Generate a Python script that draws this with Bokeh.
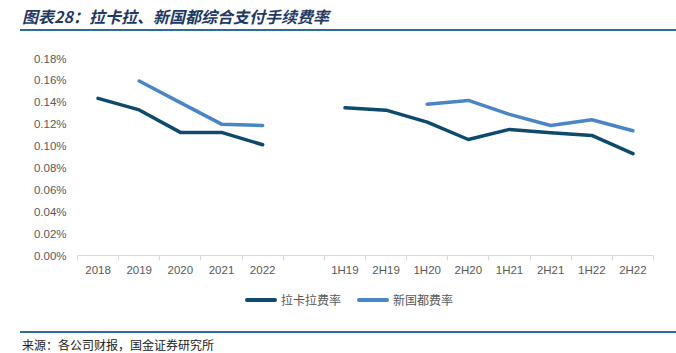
import math
from bokeh.plotting import figure
from bokeh.layouts import column
from bokeh.models import (ColumnDataSource, FixedTicker, PrintfTickFormatter, Range1d, Div)
from bokeh.embed import file_html
from bokeh.resources import INLINE

nan = float("nan")

categories = ["2018", "2019", "2020", "2021", "2022", "",
              "1H19", "2H19", "1H20", "2H20", "1H21", "2H21", "1H22", "2H22"]
lakala_rate = [0.1436, 0.1330, 0.1125, 0.1125, 0.1012, nan,
               0.1350, 0.1328, 0.1219, 0.1060, 0.1152, 0.1121, 0.1097, 0.0930]
xgd_rate = [nan, 0.1594, 0.1397, 0.1200, 0.1188, nan,
            nan, nan, 0.1383, 0.1417, 0.1289, 0.1188, 0.1240, 0.1140]
y_ticks = [0.00, 0.02, 0.04, 0.06, 0.08, 0.10, 0.12, 0.14, 0.16, 0.18]

title_text = "图表28：拉卡拉、新国都综合支付手续费率"
source_text = "来源：各公司财报，国金证券研究所"
names = ["拉卡拉费率", "新国都费率"]

DARK = "#0E4A6E"
LIGHT = "#4A86C6"
GREY = "#595959"
AX = "#D9D9D9"
RULE = "#2E6D96"
colors = [DARK, LIGHT]

W = 676
TOP_H, MAIN_H, BOT_H = 40, 245, 68

top = Div(width=W, height=TOP_H, margin=(0, 0, 0, 0), text=(
    f'<div style="position:relative;width:{W}px;height:{TOP_H}px;">'
    '<div style="position:absolute;left:22px;top:4px;white-space:nowrap;'
    "font-family:'Noto Sans CJK SC';font-size:16px;font-weight:bold;font-style:italic;"
    f'line-height:24px;color:#1F3864;">{title_text}</div>'
    f'<div style="position:absolute;left:20px;top:29px;width:{W - 20}px;height:2px;'
    f'background:{RULE};"></div></div>'))

# legend (HTML) + source strip
leg_x = [245, 357]
items = ""
for lx, nm, col in zip(leg_x, names, colors):
    items += (f'<div style="position:absolute;left:{lx}px;top:13px;width:32px;height:4px;'
              f'border-radius:2px;background:{col};"></div>'
              f'<div style="position:absolute;left:{lx + 36}px;top:7px;white-space:nowrap;'
              "font-family:'Noto Sans CJK SC';font-size:12px;line-height:16px;"
              f'color:{GREY};">{nm}</div>')

bot = Div(width=W, height=BOT_H, margin=(0, 0, 0, 0), text=(
    f'<div style="position:relative;width:{W}px;height:{BOT_H}px;">' + items +
    f'<div style="position:absolute;left:20px;top:46px;width:{W - 20}px;height:2px;'
    f'background:{RULE};"></div>'
    '<div style="position:absolute;left:22px;top:52px;white-space:nowrap;'
    "font-family:'Noto Sans CJK SC';font-size:12px;line-height:16px;"
    f'color:#222222;">{source_text}</div></div>'))

src = ColumnDataSource(dict(x=list(range(len(categories))), lk=lakala_rate, xg=xgd_rate))

p = figure(width=W, height=MAIN_H, output_backend="svg", toolbar_location=None,
           x_range=Range1d(-0.5, len(categories) - 0.5), y_range=Range1d(0, 0.18),
           min_border_left=77, min_border_right=23, min_border_top=18, min_border_bottom=30)
p.outline_line_color = None
p.grid.grid_line_color = None

p.line("x", "lk", source=src, line_color=DARK, line_width=3.5, line_cap="round", line_join="round")
p.line("x", "xg", source=src, line_color=LIGHT, line_width=3.5, line_cap="round", line_join="round")

xa = p.xaxis[0]
xa.ticker = FixedTicker(ticks=list(range(len(categories))),
                        minor_ticks=[i - 0.5 for i in range(len(categories) + 1)])
xa.major_label_overrides = {i: c for i, c in enumerate(categories)}
xa.major_tick_line_color = None
xa.major_tick_out = 0
xa.major_tick_in = 0
xa.minor_tick_line_color = AX
xa.minor_tick_out = 5
xa.minor_tick_in = 0
xa.axis_line_color = AX
xa.major_label_standoff = 3
xa.major_label_text_color = GREY
xa.major_label_text_font = "Liberation Sans"
xa.major_label_text_font_size = "11.5px"

ya = p.yaxis[0]
ya.ticker = FixedTicker(ticks=y_ticks)
ya.formatter = PrintfTickFormatter(format="%.2f%%")
ya.axis_line_color = None
ya.major_tick_line_color = None
ya.minor_tick_line_color = None
ya.major_tick_out = 0
ya.major_label_standoff = 11
ya.major_label_text_color = GREY
ya.major_label_text_font = "Liberation Sans"
ya.major_label_text_font_size = "11.5px"

layout = column(top, p, bot, spacing=0)
open("out.html", "w").write(file_html(layout, INLINE))
